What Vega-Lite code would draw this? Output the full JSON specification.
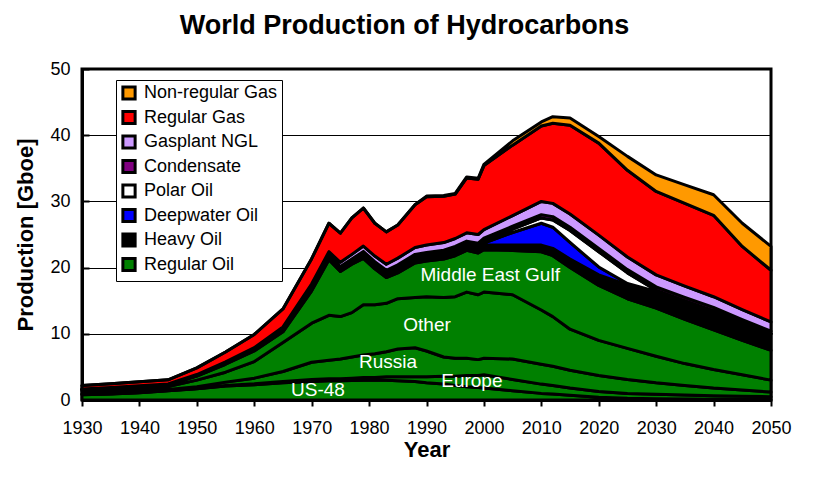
{
  "$schema": "https://vega.github.io/schema/vega-lite/v6.json",
  "width": 689,
  "height": 331,
  "autosize": {"type": "none"},
  "padding": {"left": 82, "top": 69, "right": 66, "bottom": 78},
  "background": "white",
  "title": {
    "text": "World Production of Hydrocarbons",
    "font": "Liberation Sans",
    "fontSize": 27,
    "fontWeight": "bold",
    "color": "black",
    "anchor": "middle",
    "frame": "group",
    "offset": 20,
    "dx": -22
  },
  "config": {
    "font": "Liberation Sans",
    "view": {"stroke": "black", "strokeWidth": 3},
    "axis": {
      "labelFont": "Liberation Sans",
      "labelFontSize": 18,
      "labelColor": "black",
      "titleFont": "Liberation Sans",
      "titleFontSize": 22,
      "titleFontWeight": "bold",
      "titleColor": "black",
      "domainColor": "black",
      "domainWidth": 3,
      "tickColor": "black",
      "tickWidth": 2,
      "gridColor": "black",
      "gridWidth": 1
    }
  },
  "layer": [
    {
      "data": {
        "values": [
          {"year": 1930, "US48": 0.8, "Europe": 0.05, "Russia": 0.15, "Other": 0.35, "MEG": 0.2, "Heavy": 0.05, "Deep": 0, "Polar": 0, "Cond": 0.01, "NGL": 0.04, "Gas": 0.55, "NonReg": 0},
          {"year": 1935, "US48": 0.9, "Europe": 0.05, "Russia": 0.2, "Other": 0.4, "MEG": 0.25, "Heavy": 0.05, "Deep": 0, "Polar": 0, "Cond": 0.01, "NGL": 0.04, "Gas": 0.55, "NonReg": 0},
          {"year": 1940, "US48": 1.1, "Europe": 0.05, "Russia": 0.25, "Other": 0.4, "MEG": 0.25, "Heavy": 0.05, "Deep": 0, "Polar": 0, "Cond": 0.02, "NGL": 0.05, "Gas": 0.58, "NonReg": 0},
          {"year": 1945, "US48": 1.4, "Europe": 0.05, "Russia": 0.15, "Other": 0.45, "MEG": 0.25, "Heavy": 0.06, "Deep": 0, "Polar": 0, "Cond": 0.02, "NGL": 0.05, "Gas": 0.62, "NonReg": 0},
          {"year": 1950, "US48": 1.7, "Europe": 0.05, "Russia": 0.25, "Other": 1.0, "MEG": 0.6, "Heavy": 0.1, "Deep": 0, "Polar": 0, "Cond": 0.05, "NGL": 0.1, "Gas": 1.0, "NonReg": 0},
          {"year": 1955, "US48": 2.1, "Europe": 0.1, "Russia": 0.5, "Other": 1.5, "MEG": 1.2, "Heavy": 0.15, "Deep": 0, "Polar": 0, "Cond": 0.05, "NGL": 0.15, "Gas": 1.5, "NonReg": 0},
          {"year": 1960, "US48": 2.3, "Europe": 0.15, "Russia": 0.85, "Other": 2.5, "MEG": 1.6, "Heavy": 0.2, "Deep": 0, "Polar": 0, "Cond": 0.1, "NGL": 0.2, "Gas": 2.0, "NonReg": 0},
          {"year": 1965, "US48": 2.6, "Europe": 0.2, "Russia": 1.5, "Other": 4.4, "MEG": 1.6, "Heavy": 0.3, "Deep": 0, "Polar": 0, "Cond": 0.15, "NGL": 0.3, "Gas": 2.7, "NonReg": 0},
          {"year": 1970, "US48": 2.8, "Europe": 0.3, "Russia": 2.6, "Other": 5.9, "MEG": 4.9, "Heavy": 0.4, "Deep": 0, "Polar": 0, "Cond": 0.2, "NGL": 0.45, "Gas": 3.8, "NonReg": 0},
          {"year": 1973, "US48": 2.9, "Europe": 0.3, "Russia": 2.8, "Other": 6.8, "MEG": 8.4, "Heavy": 0.4, "Deep": 0, "Polar": 0, "Cond": 0.2, "NGL": 0.6, "Gas": 4.3, "NonReg": 0},
          {"year": 1975, "US48": 2.9, "Europe": 0.3, "Russia": 3.0, "Other": 6.4, "MEG": 6.8, "Heavy": 0.45, "Deep": 0, "Polar": 0.05, "Cond": 0.25, "NGL": 0.65, "Gas": 4.4, "NonReg": 0},
          {"year": 1977, "US48": 2.95, "Europe": 0.35, "Russia": 3.2, "Other": 6.7, "MEG": 7.3, "Heavy": 0.45, "Deep": 0, "Polar": 0.1, "Cond": 0.25, "NGL": 0.7, "Gas": 5.5, "NonReg": 0},
          {"year": 1979, "US48": 3.0, "Europe": 0.4, "Russia": 3.4, "Other": 7.6, "MEG": 7.0, "Heavy": 0.5, "Deep": 0, "Polar": 0.25, "Cond": 0.3, "NGL": 0.8, "Gas": 5.75, "NonReg": 0},
          {"year": 1981, "US48": 3.0, "Europe": 0.4, "Russia": 3.6, "Other": 7.4, "MEG": 5.4, "Heavy": 0.5, "Deep": 0, "Polar": 0.3, "Cond": 0.3, "NGL": 0.85, "Gas": 4.95, "NonReg": 0},
          {"year": 1983, "US48": 3.0, "Europe": 0.5, "Russia": 3.8, "Other": 7.3, "MEG": 3.9, "Heavy": 0.5, "Deep": 0, "Polar": 0.3, "Cond": 0.3, "NGL": 0.9, "Gas": 4.9, "NonReg": 0},
          {"year": 1985, "US48": 2.9, "Europe": 0.6, "Russia": 4.2, "Other": 7.6, "MEG": 3.9, "Heavy": 0.55, "Deep": 0, "Polar": 0.35, "Cond": 0.33, "NGL": 1.0, "Gas": 5.0, "NonReg": 0},
          {"year": 1988, "US48": 2.8, "Europe": 0.7, "Russia": 4.4, "Other": 7.6, "MEG": 5.2, "Heavy": 0.6, "Deep": 0, "Polar": 0.35, "Cond": 0.35, "NGL": 1.05, "Gas": 6.45, "NonReg": 0},
          {"year": 1990, "US48": 2.6, "Europe": 0.9, "Russia": 3.9, "Other": 8.2, "MEG": 5.4, "Heavy": 0.6, "Deep": 0, "Polar": 0.35, "Cond": 0.35, "NGL": 1.1, "Gas": 7.3, "NonReg": 0.1},
          {"year": 1993, "US48": 2.4, "Europe": 1.2, "Russia": 2.9, "Other": 9.0, "MEG": 5.8, "Heavy": 0.6, "Deep": 0, "Polar": 0.35, "Cond": 0.38, "NGL": 1.15, "Gas": 7.0, "NonReg": 0.1},
          {"year": 1995, "US48": 2.2, "Europe": 1.4, "Russia": 2.7, "Other": 9.3, "MEG": 6.2, "Heavy": 0.65, "Deep": 0, "Polar": 0.35, "Cond": 0.4, "NGL": 1.2, "Gas": 6.7, "NonReg": 0.1},
          {"year": 1997, "US48": 2.0, "Europe": 1.7, "Russia": 2.6, "Other": 10.0, "MEG": 6.3, "Heavy": 0.65, "Deep": 0, "Polar": 0.35, "Cond": 0.4, "NGL": 1.25, "Gas": 8.3, "NonReg": 0.15},
          {"year": 1999, "US48": 1.9, "Europe": 1.8, "Russia": 2.4, "Other": 9.8, "MEG": 6.3, "Heavy": 0.7, "Deep": 0.05, "Polar": 0.35, "Cond": 0.4, "NGL": 1.3, "Gas": 8.35, "NonReg": 0.15},
          {"year": 2000, "US48": 1.8, "Europe": 2.0, "Russia": 2.5, "Other": 10.0, "MEG": 6.4, "Heavy": 0.7, "Deep": 0.3, "Polar": 0.35, "Cond": 0.4, "NGL": 1.3, "Gas": 9.65, "NonReg": 0.2},
          {"year": 2005, "US48": 1.4, "Europe": 1.7, "Russia": 3.1, "Other": 9.7, "MEG": 6.7, "Heavy": 0.8, "Deep": 1.9, "Polar": 0.5, "Cond": 0.45, "NGL": 1.6, "Gas": 10.65, "NonReg": 0.65},
          {"year": 2010, "US48": 1.0, "Europe": 1.4, "Russia": 3.0, "Other": 8.2, "MEG": 8.8, "Heavy": 1.0, "Deep": 3.3, "Polar": 0.8, "Cond": 0.5, "NGL": 2.0, "Gas": 11.4, "NonReg": 0.6},
          {"year": 2012, "US48": 0.9, "Europe": 1.3, "Russia": 2.9, "Other": 7.5, "MEG": 9.2, "Heavy": 1.1, "Deep": 3.2, "Polar": 1.1, "Cond": 0.5, "NGL": 2.0, "Gas": 12.1, "NonReg": 1.0},
          {"year": 2015, "US48": 0.7, "Europe": 1.1, "Russia": 2.7, "Other": 6.2, "MEG": 9.3, "Heavy": 1.3, "Deep": 2.5, "Polar": 1.8, "Cond": 0.5, "NGL": 2.0, "Gas": 13.4, "NonReg": 1.1},
          {"year": 2020, "US48": 0.4, "Europe": 0.9, "Russia": 2.4, "Other": 5.3, "MEG": 8.3, "Heavy": 1.6, "Deep": 1.2, "Polar": 2.3, "Cond": 0.5, "NGL": 2.0, "Gas": 13.9, "NonReg": 1.0},
          {"year": 2025, "US48": 0.25, "Europe": 0.75, "Russia": 2.1, "Other": 4.7, "MEG": 7.5, "Heavy": 2.1, "Deep": 0.2, "Polar": 1.6, "Cond": 0.5, "NGL": 1.9, "Gas": 13.1, "NonReg": 2.1},
          {"year": 2030, "US48": 0.2, "Europe": 0.65, "Russia": 1.75, "Other": 4.0, "MEG": 7.3, "Heavy": 2.5, "Deep": 0, "Polar": 0.2, "Cond": 0.5, "NGL": 1.8, "Gas": 12.6, "NonReg": 2.5},
          {"year": 2035, "US48": 0.15, "Europe": 0.6, "Russia": 1.45, "Other": 3.3, "MEG": 6.7, "Heavy": 2.8, "Deep": 0, "Polar": 0, "Cond": 0.5, "NGL": 1.7, "Gas": 12.5, "NonReg": 2.8},
          {"year": 2040, "US48": 0.1, "Europe": 0.55, "Russia": 1.15, "Other": 2.8, "MEG": 6.0, "Heavy": 2.9, "Deep": 0, "Polar": 0, "Cond": 0.5, "NGL": 1.6, "Gas": 12.3, "NonReg": 3.1},
          {"year": 2045, "US48": 0.08, "Europe": 0.47, "Russia": 0.95, "Other": 2.3, "MEG": 5.2, "Heavy": 2.7, "Deep": 0, "Polar": 0, "Cond": 0.45, "NGL": 1.5, "Gas": 9.55, "NonReg": 3.5},
          {"year": 2050, "US48": 0.05, "Europe": 0.45, "Russia": 0.7, "Other": 1.8, "MEG": 4.5, "Heavy": 2.5, "Deep": 0, "Polar": 0, "Cond": 0.4, "NGL": 1.4, "Gas": 7.8, "NonReg": 3.6}
        ]
      },
      "transform": [
        {"fold": ["US48", "Europe", "Russia", "Other", "MEG", "Heavy", "Deep", "Polar", "Cond", "NGL", "Gas", "NonReg"], "as": ["key", "value"]},
        {
          "lookup": "key",
          "from": {
            "data": {
              "values": [
                {"key": "US48", "type": "Regular Oil", "ord": 1},
                {"key": "Europe", "type": "Regular Oil", "ord": 2},
                {"key": "Russia", "type": "Regular Oil", "ord": 3},
                {"key": "Other", "type": "Regular Oil", "ord": 4},
                {"key": "MEG", "type": "Regular Oil", "ord": 5},
                {"key": "Heavy", "type": "Heavy Oil", "ord": 6},
                {"key": "Deep", "type": "Deepwater Oil", "ord": 7},
                {"key": "Polar", "type": "Polar Oil", "ord": 8},
                {"key": "Cond", "type": "Condensate", "ord": 9},
                {"key": "NGL", "type": "Gasplant NGL", "ord": 10},
                {"key": "Gas", "type": "Regular Gas", "ord": 11},
                {"key": "NonReg", "type": "Non-regular Gas", "ord": 12}
              ]
            },
            "key": "key",
            "fields": ["type", "ord"]
          }
        }
      ],
      "mark": {"type": "area", "stroke": "black", "strokeWidth": 3, "strokeJoin": "round", "opacity": 1},
      "encoding": {
        "x": {
          "field": "year",
          "type": "quantitative",
          "scale": {"domain": [1930, 2050], "nice": false, "zero": false},
          "axis": {
            "title": "Year",
            "values": [1930, 1935, 1940, 1945, 1950, 1955, 1960, 1965, 1970, 1975, 1980, 1985, 1990, 1995, 2000, 2005, 2010, 2015, 2020, 2025, 2030, 2035, 2040, 2045, 2050],
            "format": "d",
            "labelExpr": "datum.value % 10 == 0 ? datum.label : ''",
            "labelOverlap": false,
            "labelFlush": false,
            "tickSize": 6,
            "labelPadding": 13,
            "titlePadding": 2,
            "grid": false
          }
        },
        "y": {
          "field": "value",
          "type": "quantitative",
          "stack": "zero",
          "scale": {"domain": [0, 50], "nice": false},
          "axis": {
            "title": "Production [Gboe]",
            "values": [0, 5, 10, 15, 20, 25, 30, 35, 40, 45, 50],
            "labelExpr": "datum.value % 10 == 0 ? datum.label : ''",
            "labelOverlap": false,
            "labelFlush": false,
            "tickSize": -7,
            "labelPadding": 19,
            "titlePadding": 12,
            "grid": true,
            "gridOpacity": {"condition": {"test": "datum.value % 10 == 0", "value": 1}, "value": 0}
          }
        },
        "color": {
          "field": "type",
          "type": "nominal",
          "scale": {
            "domain": ["Non-regular Gas", "Regular Gas", "Gasplant NGL", "Condensate", "Polar Oil", "Deepwater Oil", "Heavy Oil", "Regular Oil"],
            "range": ["#FF9900", "#FF0000", "#CC99FF", "#800080", "#FFFFFF", "#0000FF", "#000000", "#008000"]
          },
          "legend": {
            "orient": "none",
            "legendX": 34,
            "legendY": 11,
            "title": null,
            "symbolType": "square",
            "symbolSize": 150,
            "symbolStrokeColor": "black",
            "symbolStrokeWidth": 3,
            "symbolOpacity": 1,
            "labelFont": "Liberation Sans",
            "labelFontSize": 18,
            "labelColor": "black",
            "labelLimit": 300,
            "labelOffset": 6,
            "rowPadding": -1.5,
            "padding": 4,
            "strokeColor": "black",
            "fillColor": "white"
          }
        },
        "detail": {"field": "key"},
        "order": {"field": "ord", "type": "quantitative"}
      }
    },
    {
      "data": {
        "values": [
          {"label": "Middle East Gulf", "year": 2001.1, "val": 18.9},
          {"label": "Other", "year": 1990.1, "val": 11.3},
          {"label": "Russia", "year": 1983.3, "val": 5.7},
          {"label": "Europe", "year": 1997.9, "val": 2.9},
          {"label": "US-48", "year": 1971.1, "val": 1.5}
        ]
      },
      "mark": {"type": "text", "color": "white", "fontSize": 19, "font": "Liberation Sans"},
      "encoding": {
        "x": {"field": "year", "type": "quantitative", "title": "Year"},
        "y": {"field": "val", "type": "quantitative", "title": "Production [Gboe]"},
        "text": {"field": "label"}
      }
    }
  ]
}
